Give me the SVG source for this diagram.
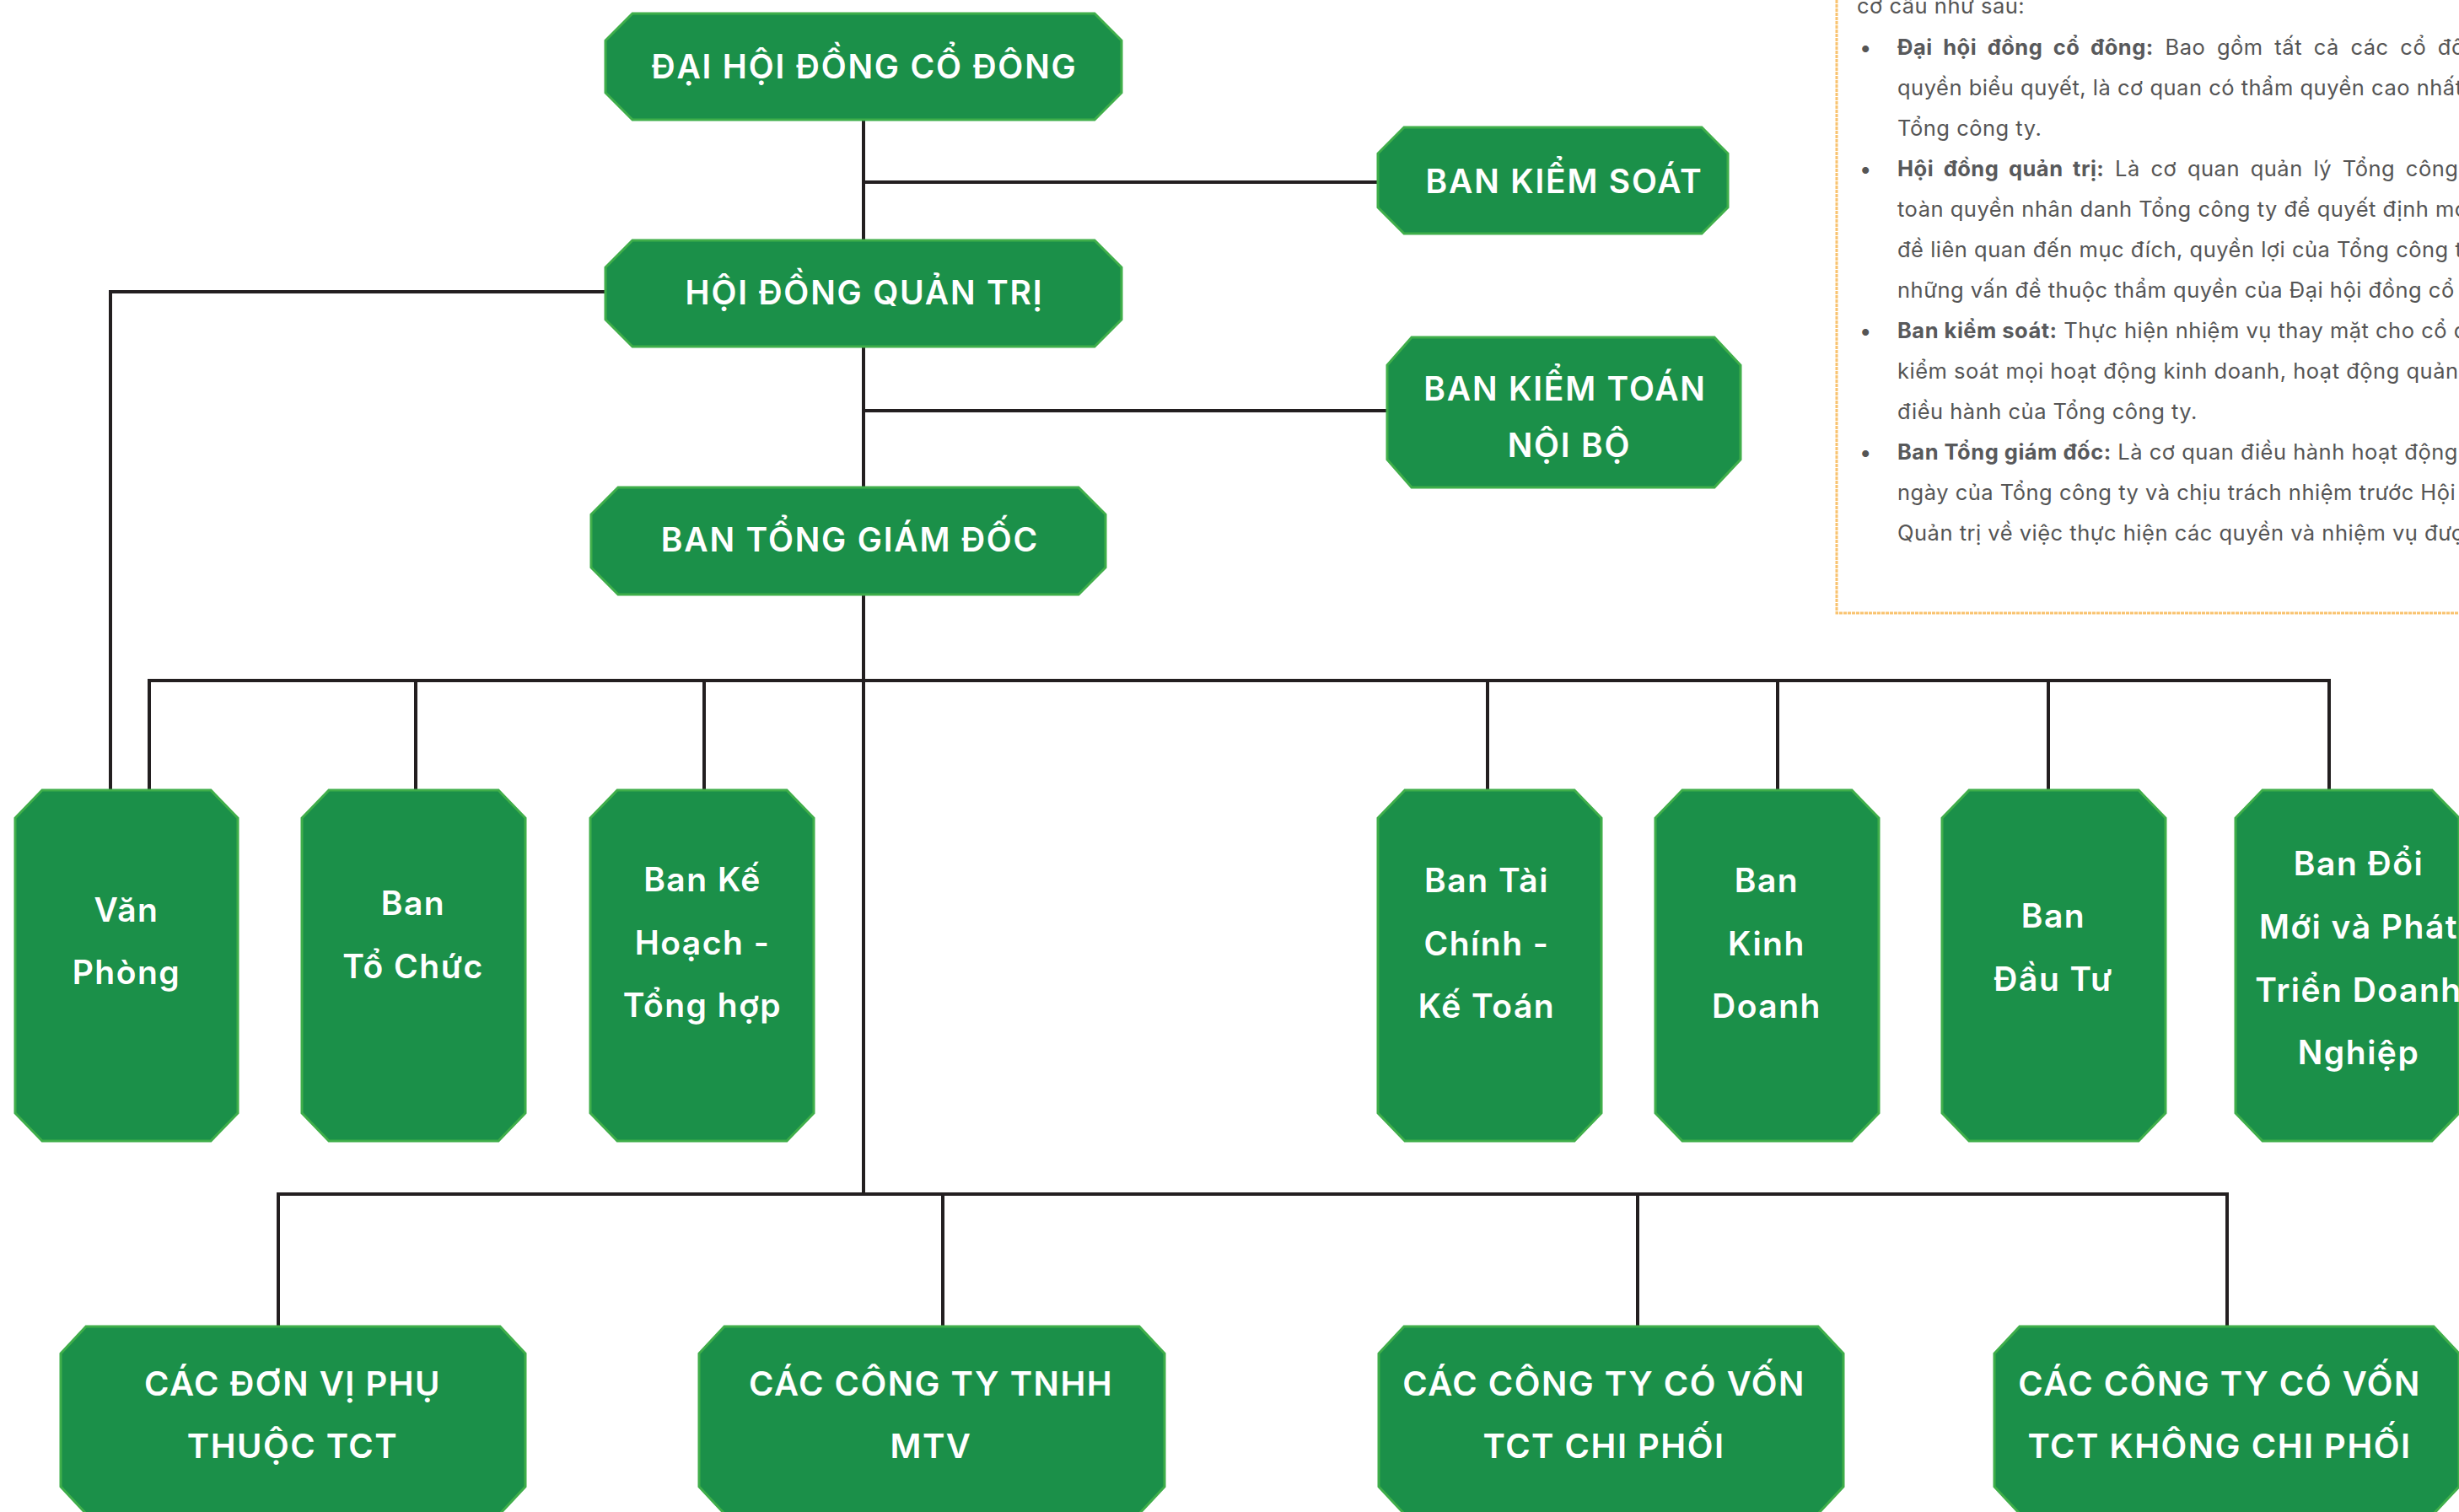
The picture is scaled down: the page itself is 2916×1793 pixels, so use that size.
<svg xmlns="http://www.w3.org/2000/svg" width="2916" height="1793" viewBox="0 0 2916 1793">
<style>
.node polygon{fill:#1b9049;stroke:#3fae4a;stroke-width:3}
.lbl{font-family:Inter,"Liberation Sans",sans-serif;font-weight:600;font-size:39px;fill:#ffffff;text-anchor:middle;letter-spacing:1.8px}
.lbl2{font-family:Inter,"Liberation Sans",sans-serif;font-weight:600;font-size:39px;fill:#ffffff;text-anchor:middle;letter-spacing:1.5px}
.lbl3{font-family:Inter,"Liberation Sans",sans-serif;font-weight:600;font-size:40px;fill:#ffffff;text-anchor:middle;letter-spacing:1.5px}
.conn line,.conn path{stroke:#231f20;stroke-width:4;fill:none}
.ptxt{font-family:Inter,"Liberation Sans",sans-serif;font-size:25.5px;fill:#555555;letter-spacing:0.5px}
.ptxt tspan.b{font-weight:700;fill:#58595b}
</style>
<rect width="2916" height="1793" fill="#ffffff"/>

<g id="panel">
<rect x="2178" y="-20" width="800" height="747" fill="none" stroke="#f9c370" stroke-width="3" stroke-dasharray="4 1"/>
<text class="ptxt" x="2202" y="16">cơ cấu như sau:</text>
<text class="ptxt" x="2205" y="65">•</text>
<text class="ptxt" x="2250" y="65" word-spacing="6"><tspan class="b">Đại hội đồng cổ đông:</tspan> Bao gồm tất cả các cổ đông có</text>
<text class="ptxt" x="2250" y="113">quyền biểu quyết, là cơ quan có thẩm quyền cao nhất của</text>
<text class="ptxt" x="2250" y="161">Tổng công ty.</text>
<text class="ptxt" x="2205" y="209">•</text>
<text class="ptxt" x="2250" y="209" word-spacing="5"><tspan class="b">Hội đồng quản trị:</tspan> Là cơ quan quản lý Tổng công ty, có</text>
<text class="ptxt" x="2250" y="257">toàn quyền nhân danh Tổng công ty để quyết định mọi vấn</text>
<text class="ptxt" x="2250" y="305">đề liên quan đến mục đích, quyền lợi của Tổng công ty trừ</text>
<text class="ptxt" x="2250" y="353">những vấn đề thuộc thẩm quyền của Đại hội đồng cổ đông.</text>
<text class="ptxt" x="2205" y="401">•</text>
<text class="ptxt" x="2250" y="401"><tspan class="b">Ban kiểm soát:</tspan> Thực hiện nhiệm vụ thay mặt cho cổ đông</text>
<text class="ptxt" x="2250" y="449">kiểm soát mọi hoạt động kinh doanh, hoạt động quản trị và</text>
<text class="ptxt" x="2250" y="497">điều hành của Tổng công ty.</text>
<text class="ptxt" x="2205" y="545">•</text>
<text class="ptxt" x="2250" y="545"><tspan class="b">Ban Tổng giám đốc:</tspan> Là cơ quan điều hành hoạt động hằng</text>
<text class="ptxt" x="2250" y="593">ngày của Tổng công ty và chịu trách nhiệm trước Hội đồng</text>
<text class="ptxt" x="2250" y="641">Quản trị về việc thực hiện các quyền và nhiệm vụ được giao.</text>
</g>

<g id="connectors" class="conn">
<line x1="1024" y1="142" x2="1024" y2="1416"/>
<line x1="1024" y1="216" x2="1634" y2="216"/>
<line x1="1024" y1="487" x2="1645" y2="487"/>
<path d="M718,346 H131 V937"/>
<line x1="175" y1="807" x2="2764" y2="807"/>
<line x1="177" y1="807" x2="177" y2="937"/>
<line x1="493" y1="807" x2="493" y2="937"/>
<line x1="835" y1="807" x2="835" y2="937"/>
<line x1="1764" y1="807" x2="1764" y2="937"/>
<line x1="2108" y1="807" x2="2108" y2="937"/>
<line x1="2429" y1="807" x2="2429" y2="937"/>
<line x1="2762" y1="807" x2="2762" y2="937"/>
<line x1="328" y1="1416" x2="2643" y2="1416"/>
<line x1="330" y1="1416" x2="330" y2="1573"/>
<line x1="1118" y1="1416" x2="1118" y2="1573"/>
<line x1="1942" y1="1416" x2="1942" y2="1573"/>
<line x1="2641" y1="1416" x2="2641" y2="1573"/>
</g>

<g id="dhdcd" class="node">
<polygon points="750,16 1298,16 1330,48 1330,110 1298,142 750,142 718,110 718,48"/>
<text class="lbl" x="1025" y="93">ĐẠI HỘI ĐỒNG CỔ ĐÔNG</text>
</g>
<g id="hdqt" class="node">
<polygon points="750,285 1298,285 1330,317 1330,379 1298,411 750,411 718,379 718,317"/>
<text class="lbl" x="1025" y="361">HỘI ĐỒNG QUẢN TRỊ</text>
</g>
<g id="bks" class="node">
<polygon points="1665,151 2018,151 2049,182 2049,246 2018,277 1665,277 1634,246 1634,182"/>
<text class="lbl" x="1855" y="229">BAN KIỂM SOÁT</text>
</g>
<g id="bktnb" class="node">
<polygon points="1674,400 2033,400 2064,433 2064,545 2033,578 1674,578 1645,545 1645,433"/>
<text class="lbl" x="1856" y="475">BAN KIỂM TOÁN</text>
<text class="lbl" x="1861" y="542">NỘI BỘ</text>
</g>
<g id="btgd" class="node">
<polygon points="733,578 1279,578 1311,610 1311,673 1279,705 733,705 701,673 701,610"/>
<text class="lbl" x="1008" y="654">BAN TỔNG GIÁM ĐỐC</text>
</g>

<g id="van-phong" class="node">
<polygon points="50,937 250,937 282,970 282,1320 250,1353 50,1353 18,1320 18,970"/>
<text class="lbl2" x="150" y="1093">Văn</text>
<text class="lbl2" x="150" y="1167">Phòng</text>
</g>
<g id="ban-to-chuc" class="node">
<polygon points="390,937 591,937 623,970 623,1320 591,1353 390,1353 358,1320 358,970"/>
<text class="lbl2" x="490" y="1085">Ban</text>
<text class="lbl2" x="490" y="1160">Tổ Chức</text>
</g>
<g id="ban-ke-hoach" class="node">
<polygon points="732,937 933,937 965,970 965,1320 933,1353 732,1353 700,1320 700,970"/>
<text class="lbl2" x="833" y="1057">Ban Kế</text>
<text class="lbl2" x="833" y="1132">Hoạch -</text>
<text class="lbl2" x="833" y="1206">Tổng hợp</text>
</g>
<g id="ban-tai-chinh" class="node">
<polygon points="1666,937 1867,937 1899,970 1899,1320 1867,1353 1666,1353 1634,1320 1634,970"/>
<text class="lbl2" x="1763" y="1058">Ban Tài</text>
<text class="lbl2" x="1763" y="1133">Chính -</text>
<text class="lbl2" x="1763" y="1207">Kế Toán</text>
</g>
<g id="ban-kinh-doanh" class="node">
<polygon points="1995,937 2196,937 2228,970 2228,1320 2196,1353 1995,1353 1963,1320 1963,970"/>
<text class="lbl2" x="2095" y="1058">Ban</text>
<text class="lbl2" x="2095" y="1133">Kinh</text>
<text class="lbl2" x="2095" y="1207">Doanh</text>
</g>
<g id="ban-dau-tu" class="node">
<polygon points="2335,937 2536,937 2568,970 2568,1320 2536,1353 2335,1353 2303,1320 2303,970"/>
<text class="lbl2" x="2435" y="1100">Ban</text>
<text class="lbl2" x="2435" y="1175">Đầu Tư</text>
</g>
<g id="ban-doi-moi" class="node">
<polygon points="2683,937 2884,937 2916,970 2916,1320 2884,1353 2683,1353 2651,1320 2651,970"/>
<text class="lbl2" x="2797" y="1038">Ban Đổi</text>
<text class="lbl2" x="2797" y="1113">Mới và Phát</text>
<text class="lbl2" x="2797" y="1188">Triển Doanh</text>
<text class="lbl2" x="2797" y="1262">Nghiệp</text>
</g>

<g id="don-vi-phu-thuoc" class="node">
<polygon points="102,1573 593,1573 623,1605 623,1763 593,1795 102,1795 72,1763 72,1605"/>
<text class="lbl3" x="347" y="1655">CÁC ĐƠN VỊ PHỤ</text>
<text class="lbl3" x="347" y="1729">THUỘC TCT</text>
</g>
<g id="cong-ty-tnhh" class="node">
<polygon points="859,1573 1351,1573 1381,1605 1381,1763 1351,1795 859,1795 829,1763 829,1605"/>
<text class="lbl3" x="1104" y="1655">CÁC CÔNG TY TNHH</text>
<text class="lbl3" x="1104" y="1729">MTV</text>
</g>
<g id="cong-ty-chi-phoi" class="node">
<polygon points="1665,1573 2156,1573 2186,1605 2186,1763 2156,1795 1665,1795 1635,1763 1635,1605"/>
<text class="lbl3" x="1902" y="1655">CÁC CÔNG TY CÓ VỐN</text>
<text class="lbl3" x="1902" y="1729">TCT CHI PHỐI</text>
</g>
<g id="cong-ty-khong-chi-phoi" class="node">
<polygon points="2395,1573 2886,1573 2916,1605 2916,1763 2886,1795 2395,1795 2365,1763 2365,1605"/>
<text class="lbl3" x="2632" y="1655">CÁC CÔNG TY CÓ VỐN</text>
<text class="lbl3" x="2632" y="1729">TCT KHÔNG CHI PHỐI</text>
</g>
</svg>
